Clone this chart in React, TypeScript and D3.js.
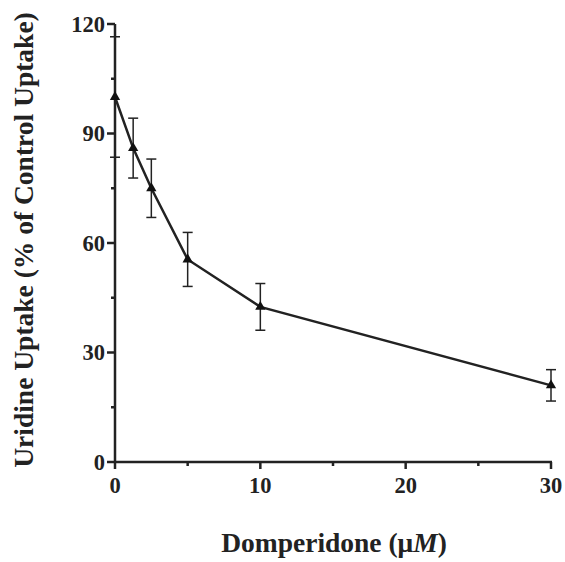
import React from "react";
import * as d3 from "d3";

const doses = [0, 1.25, 2.5, 5, 10, 30];
const uptake = [100, 86, 75, 55.5, 42.5, 21];
const errors = [16.5, 8.2, 8, 7.4, 6.4, 4.3];
const xMajorTicks = [0, 10, 20, 30];
const xMinorTicks = [5, 15, 25];
const yMajorTicks = [0, 30, 60, 90, 120];
const yMinorTicks = [15, 45, 75, 105];

const W = 565, H = 562;
const left = 115, right = 551, top = 24, bottom = 462;

export default function App() {
  const x = d3.scaleLinear().domain([0, 30]).range([left, right]);
  const y = d3.scaleLinear().domain([0, 120]).range([bottom, top]);
  const data = doses.map((d, i) => ({ d, v: uptake[i], e: errors[i] }));
  const line = d3.line<{ d: number; v: number }>().x(p => x(p.d)).y(p => y(p.v));
  const tri = d3.symbol().type(d3.symbolTriangle).size(46)();
  const font = "'Liberation Serif', 'Times New Roman', serif";
  return (
    <svg width={W} height={H} style={{ position: "absolute", left: 0, top: 0, background: "#fff" }}>
      {/* error bars */}
      {data.map((p, i) => (
        <g key={"e" + i} stroke="#222" strokeWidth={1.5}>
          <line x1={x(p.d)} x2={x(p.d)} y1={y(p.v + p.e)} y2={y(p.v - p.e)} />
          <line x1={x(p.d) - 5} x2={x(p.d) + 5} y1={y(p.v + p.e)} y2={y(p.v + p.e)} />
          <line x1={x(p.d) - 5} x2={x(p.d) + 5} y1={y(p.v - p.e)} y2={y(p.v - p.e)} />
        </g>
      ))}
      {/* axes */}
      <line x1={left} x2={left} y1={top} y2={bottom + 1} stroke="#222" strokeWidth={2.5} />
      <line x1={left - 1} x2={right + 1} y1={bottom} y2={bottom} stroke="#222" strokeWidth={2.5} />
      {yMajorTicks.map(t => (
        <g key={"ym" + t}>
          <line x1={left - 8} x2={left} y1={y(t)} y2={y(t)} stroke="#222" strokeWidth={2.5} />
          <text x={left - 10} y={y(t)} dy="0.35em" textAnchor="end" fontFamily={font} fontWeight="bold" fontSize={22.5} fill="#222">{t}</text>
        </g>
      ))}
      {yMinorTicks.map(t => (
        <line key={"yn" + t} x1={left - 4} x2={left} y1={y(t)} y2={y(t)} stroke="#222" strokeWidth={2.5} />
      ))}
      {xMajorTicks.map(t => (
        <g key={"xm" + t}>
          <line x1={x(t)} x2={x(t)} y1={bottom} y2={bottom + 7} stroke="#222" strokeWidth={2.5} />
          <text x={x(t)} y={bottom + 31} textAnchor="middle" fontFamily={font} fontWeight="bold" fontSize={22.5} fill="#222">{t}</text>
        </g>
      ))}
      {xMinorTicks.map(t => (
        <line key={"xn" + t} x1={x(t)} x2={x(t)} y1={bottom} y2={bottom + 4} stroke="#222" strokeWidth={2.5} />
      ))}
      {/* line */}
      <path d={line(data) || ""} fill="none" stroke="#222" strokeWidth={2.5} />
      {data.map((p, i) => (
        <path key={"t" + i} d={tri || ""} transform={`translate(${x(p.d)},${y(p.v)})`} fill="#111" />
      ))}
      {/* titles */}
      <text x={334} y={552} textAnchor="middle" fontFamily={font} fontWeight="bold" fontSize={27.5} fill="#222">
        Domperidone (μ<tspan fontStyle="italic">M</tspan>)
      </text>
      <text transform={`translate(33, 240) rotate(-90)`} textAnchor="middle" fontFamily={font} fontWeight="bold" fontSize={27.5} fill="#222">
        Uridine Uptake (% of Control Uptake)
      </text>
    </svg>
  );
}
